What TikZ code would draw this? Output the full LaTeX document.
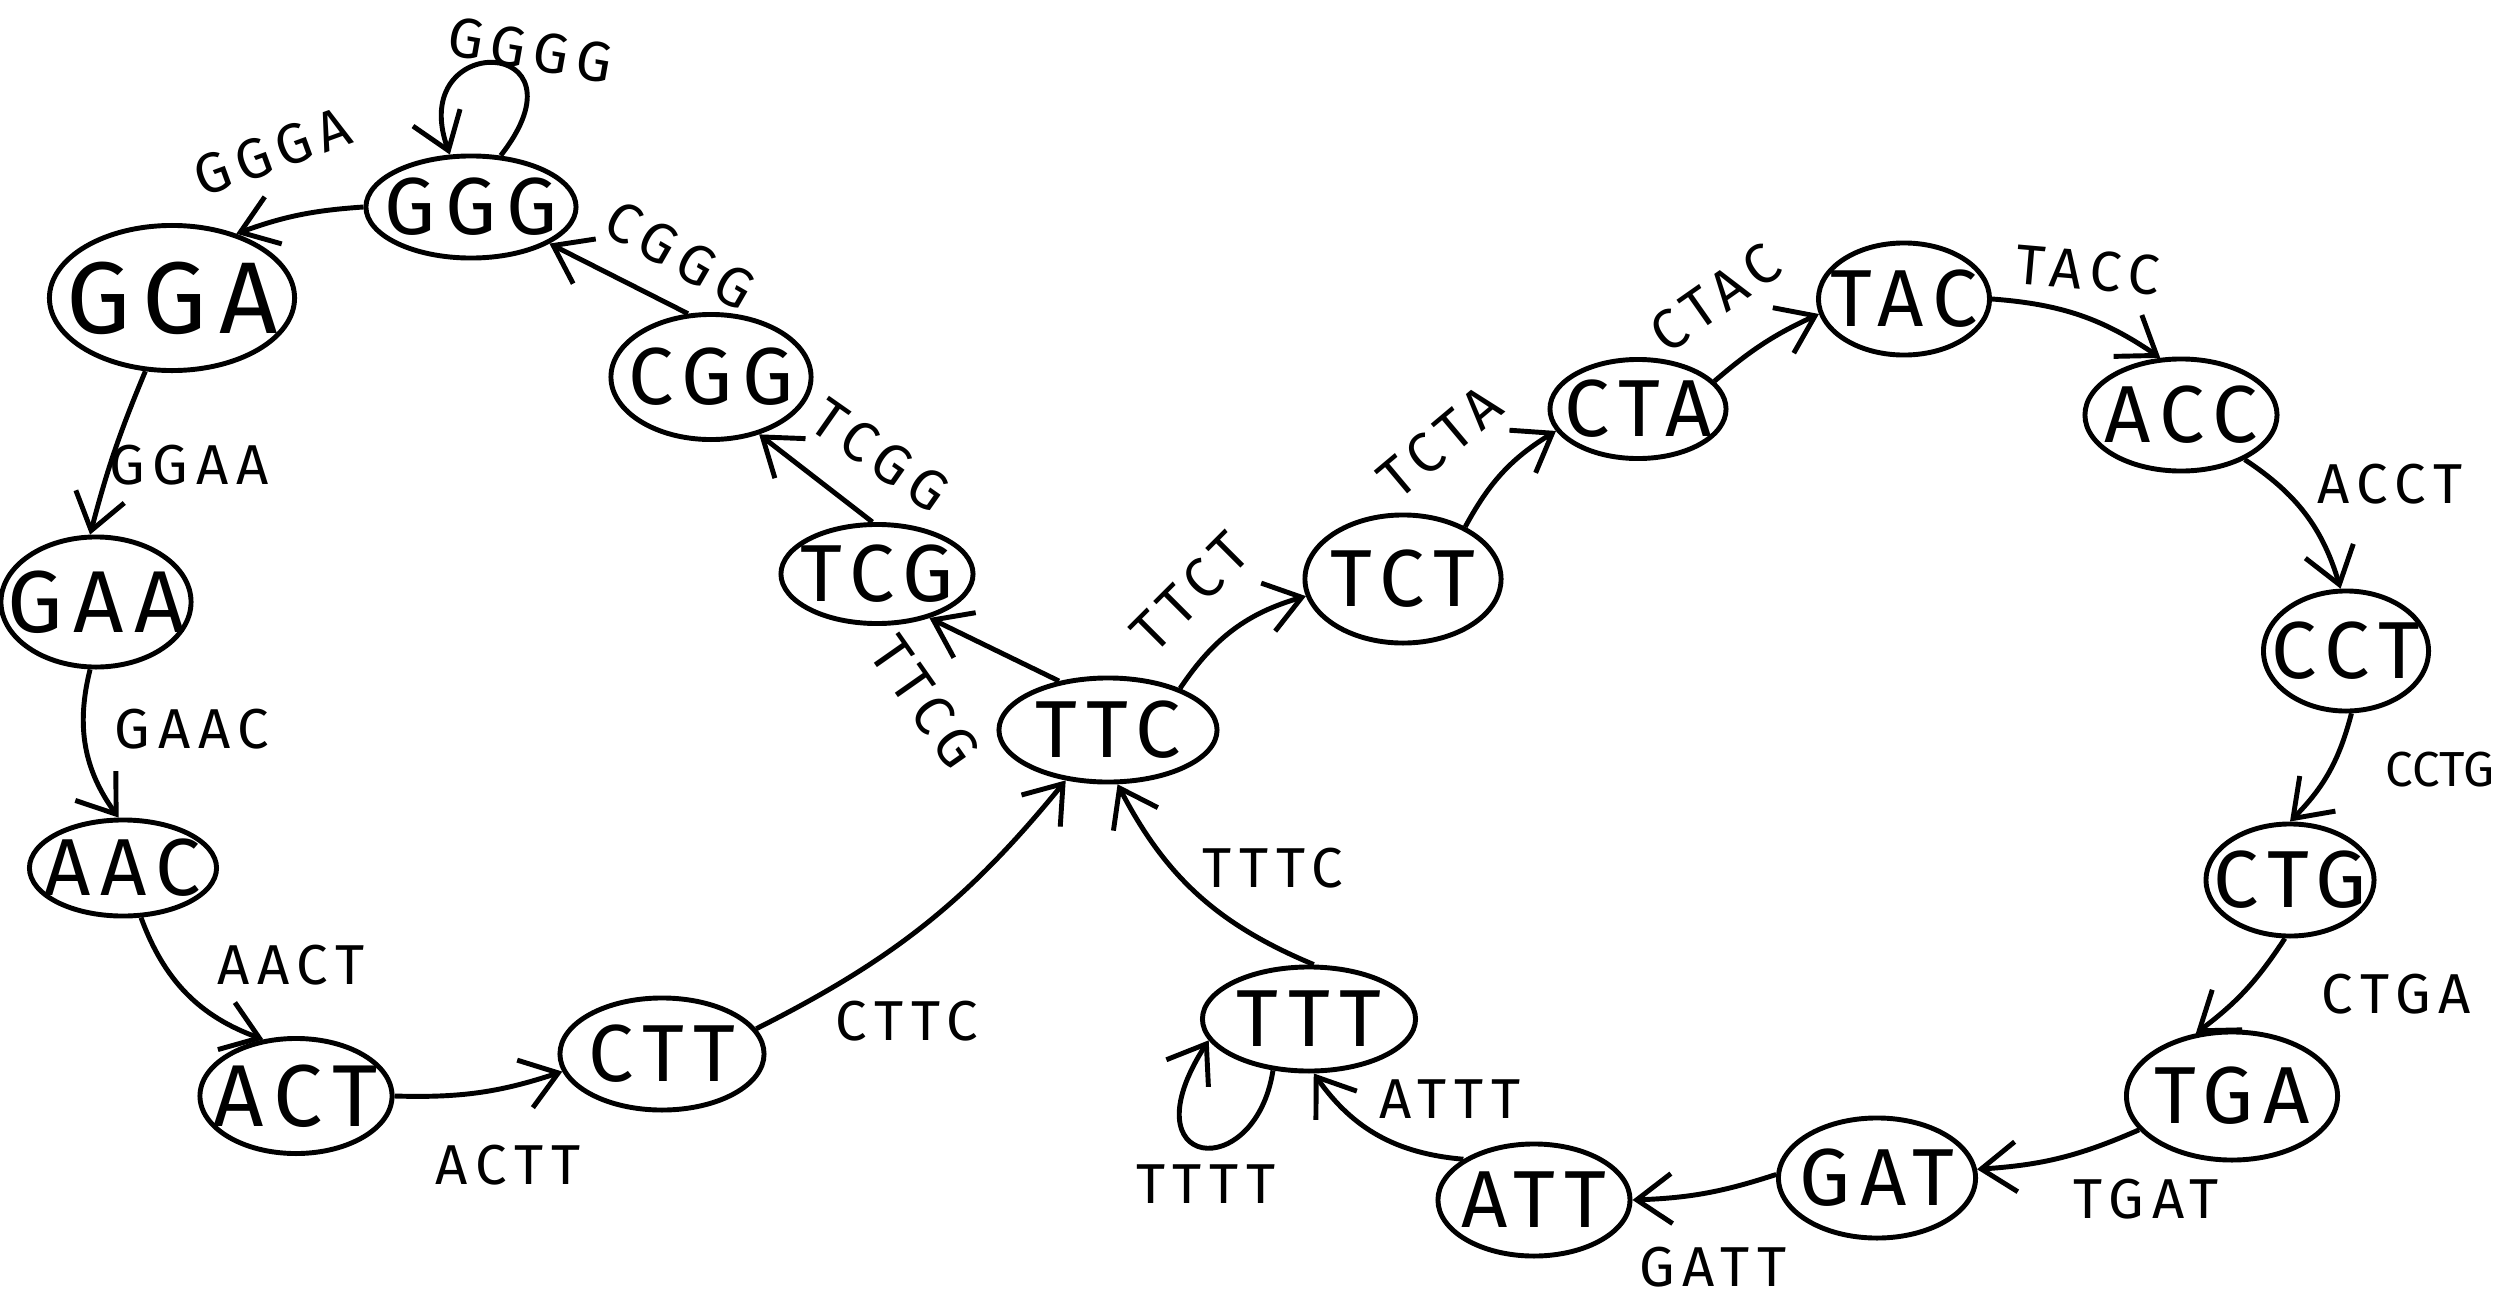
\documentclass[tikz,border=0pt]{standalone}
\usepackage{fontspec}
\setmainfont{Fira Sans}
\newfontfamily\ndfont{Fira Sans}[LetterSpace=12]
\newfontfamily\labfont{Fira Sans}[LetterSpace=14]
\newcommand{\nt}[1]{\makebox[0pt]{#1}}
\usetikzlibrary{shapes.geometric,arrows.meta}
\begin{document}
\begin{tikzpicture}[x=0.01cm,y=-0.01cm,
  nd/.style={ellipse,draw,line width=1.4pt,inner sep=0pt,font=\ndfont\fontsize{23}{25}\selectfont},
  arr/.style={line width=1.4pt,-{Straight Barb[length=3.5mm,width=5mm,line width=1.4pt]}},
  lab/.style={font=\labfont\fontsize{16}{18}\selectfont}]
\useasboundingbox (0,0) rectangle (2505,1309);
\fill[white] (0,0) rectangle (2505,1309);
% nodes
\node[nd,minimum width=2.1cm,minimum height=1.02cm] (GGG) at (471,207) {\nt{GGG}};
\node[nd,minimum width=2.45cm,minimum height=1.45cm,font=\ndfont\fontsize{29}{31}\selectfont] (GGA) at (172,298) {\nt{GGA}};
\node[nd,minimum width=1.9cm,minimum height=1.3cm,font=\ndfont\fontsize{25}{27}\selectfont] (GAA) at (96,602) {\nt{GAA}};
\node[nd,minimum width=1.87cm,minimum height=0.96cm] (AAC) at (123,868) {\nt{AAC}};
\node[nd,minimum width=1.92cm,minimum height=1.15cm,font=\ndfont\fontsize{25}{27}\selectfont] (ACT) at (296,1096) {\nt{ACT}};
\node[nd,minimum width=2.04cm,minimum height=1.12cm] (CTT) at (662,1054) {\nt{CTT}};
\node[nd,minimum width=2.18cm,minimum height=1.04cm] (TTC) at (1108,730) {\nt{TTC}};
\node[nd,minimum width=1.92cm,minimum height=0.99cm] (TCG) at (877,574) {\nt{TCG}};
\node[nd,minimum width=2.0cm,minimum height=1.25cm] (CGG) at (711,377) {\nt{CGG}};
\node[nd,minimum width=1.96cm,minimum height=1.28cm] (TCT) at (1403,579) {\nt{TCT}};
\node[nd,minimum width=1.76cm,minimum height=0.99cm] (CTA) at (1638,409) {\nt{CTA}};
\node[nd,minimum width=1.71cm,minimum height=1.12cm] (TAC) at (1904,299) {\nt{TAC}};
\node[nd,minimum width=1.92cm,minimum height=1.12cm] (ACC) at (2181,415) {\nt{ACC}};
\node[nd,minimum width=1.65cm,minimum height=1.2cm] (CCT) at (2346,651) {\nt{CCT}};
\node[nd,minimum width=1.68cm,minimum height=1.12cm] (CTG) at (2290,880) {\nt{CTG}};
\node[nd,minimum width=2.11cm,minimum height=1.28cm] (TGA) at (2232,1096) {\nt{TGA}};
\node[nd,minimum width=1.97cm,minimum height=1.2cm] (GAT) at (1877,1178) {\nt{GAT}};
\node[nd,minimum width=1.92cm,minimum height=1.12cm] (ATT) at (1534,1200) {\nt{ATT}};
\node[nd,minimum width=2.13cm,minimum height=1.04cm] (TTT) at (1309,1019) {\nt{TTT}};
% edges
\draw[arr] (GGG.60) .. controls (595,35) and (405,30) .. (GGG.112);
\draw[arr] (GGG.180) to[bend right=8] (GGA.45);
\draw[arr] (GGA.250) to[bend right=4] (GAA.95);
\draw[arr] (GAA.265) to[bend right=25] (AAC.95);
\draw[arr] (AAC.290) to[bend right=25] (ACT.120);
\draw[arr] (ACT.0) to[bend right=10] (CTT.190);
\draw[arr] (CTT.15) to[bend right=12] (TTC.230);
\draw[arr] (TTC.135) -- (TCG.-40);
\draw[arr] (TCG.95) -- (CGG.-50);
\draw[arr] (CGG.110) -- (GGG.-25);
\draw[arr] (TTC.30) to[bend left=20] (TCT.190);
\draw[arr] (TCT.40) to[bend left=15] (CTA.195);
\draw[arr] (CTA.20) to[bend left=8] (TAC.190);
\draw[arr] (TAC.0) to[bend left=15] (ACC.110);
\draw[arr] (ACC.-35) to[bend left=20] (CCT.95);
\draw[arr] (CCT.-85) to[bend left=15] (CTG.90);
\draw[arr] (CTG.-95) to[bend left=10] (TGA.120);
\draw[arr] (TGA.200) to[bend left=10] (GAT.5);
\draw[arr] (GAT.178) to[bend left=8] (ATT.0);
\draw[arr] (ATT.150) to[bend left=25] (TTT.-85);
\draw[arr] (TTT.235) .. controls (1255,1185) and (1125,1170) .. (TTT.192);
\draw[arr] (TTT.85) to[bend left=20] (TTC.-80);
% labels
\node[lab,rotate=-10] (lGGGG) at (530,50) {GGGG};
\node[lab,rotate=20] (lGGGA) at (272,152) {GGGA};
\node[lab,rotate=-30] (lCGGG) at (680,255) {CGGG};
\node[lab] (lGGAA) at (189,465) {GGAA};
\node[lab] (lGAAC) at (192,729) {GAAC};
\node[lab] (lAACT) at (291,965) {AACT};
\node[lab] (lACTT) at (508,1165) {ACTT};
\node[lab] (lCTTC) at (907,1021) {CTTC};
\node[lab,rotate=-55] (lTTCG) at (925,702) {TTCG};
\node[lab,rotate=-35] (lTCGG) at (880,455) {TCGG};
\node[lab,rotate=45] (lTTCT) at (1190,592) {TTCT};
\node[lab,rotate=40] (lTCTA) at (1440,442) {TCTA};
\node[lab,rotate=35] (lCTAC) at (1715,298) {CTAC};
\node[lab,rotate=-5] (lTACC) at (2088,270) {TACC};
\node[lab] (lACCT) at (2390,484) {ACCT};
\node[lab,font=\fontsize{14}{16}\selectfont,anchor=west,inner sep=2pt] (lCCTG) at (2378,770) {CCTG};
\node[lab] (lCTGA) at (2396,994) {CTGA};
\node[lab] (lTGAT) at (2146,1199) {TGAT};
\node[lab] (lGATT) at (1713,1267) {GATT};
\node[lab] (lATTT) at (1450,1099) {ATTT};
\node[lab] (lTTTT) at (1206,1184) {TTTT};
\node[lab] (lTTTC) at (1273,868) {TTTC};
\end{tikzpicture}
\end{document}
